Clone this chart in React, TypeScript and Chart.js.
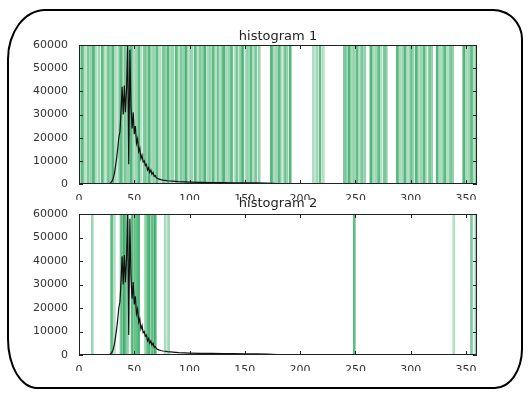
import React, { useEffect, useRef } from 'react';
import { Chart, registerables } from 'chart.js';

Chart.register(...registerables);

// ---- data ----
const xTicks = [0, 50, 100, 150, 200, 250, 300, 350];
const yTicks = [0, 10000, 20000, 30000, 40000, 50000, 60000];
const xMax = 360;
const yMax = 60000;

// histogram curve (bin -> count), same in both panels
const histBins = [
  0, 10, 20, 27,
  28, 29, 30, 31, 32, 33, 34, 35, 36, 37, 38, 39, 40, 41, 42, 43, 44, 45, 46, 47, 48, 49,
  50, 51, 52, 53, 54, 55, 56, 57, 58, 59, 60, 61, 62, 63, 64, 65, 66, 67, 68, 69, 70,
  72, 74, 76, 78, 80,
  85, 90, 95, 100,
  110, 120, 130, 140, 150, 160, 170,
  175, 180, 190, 200, 210, 220,
  240, 260, 280, 290, 300, 320, 340, 360,
];
const histCounts = [
  0, 0, 0, 0,
  300, 700, 1300, 2500, 4500, 7500, 11000, 15000, 20000, 22500, 31000, 42000, 30000, 42500, 31000, 41000, 60000, 8500, 58000, 33500, 24000, 31000,
  21500, 25000, 17500, 19500, 14000, 15500, 11000, 12500, 9500, 10000, 8000, 8500, 6000, 7000, 5000, 6000, 4200, 5000, 3300, 3600, 2700,
  2200, 1900, 1700, 1600, 1400,
  1200, 1000, 900, 800,
  700, 650, 600, 550, 500, 450, 350,
  300, 150, 100, 150, 100, 50,
  30, 20, 40, 80, 50, 20, 10, 0,
];

// vertical marker positions, panel 1
const lines1 = [
  0.5, 3, 5, 8, 10.5, 13, 15, 18, 21, 23, 26, 28, 30.5, 33, 36, 38, 40, 42, 44.5, 47, 49,
  51.5, 54, 56, 59, 61, 63.5, 66, 68, 70.5, 73, 76, 78, 80.5, 83, 85, 88, 90, 92.5, 95, 97,
  100, 102, 105, 107, 109.5, 112, 114, 117, 119, 121.5, 124, 126, 129, 131, 133.5, 136, 138,
  141, 143, 146, 148, 151, 153, 155.5, 158, 160, 163, 174, 176, 178.5, 181, 183, 186, 188, 191,
  212, 215, 218, 221, 240, 242, 244.5, 247, 249, 251.5, 254, 256, 258.5, 264, 266, 268.5, 271,
  273, 276, 278, 288, 290.5, 293, 295, 297.5, 300, 302, 305, 307, 309.5, 312, 314, 317, 319,
  324, 326.5, 329, 331, 333.5, 336, 338, 348, 350, 352.5, 355, 357, 359.5,
];

// vertical marker positions, panel 2
const lines2 = [
  12, 29.5, 32, 38, 39.5, 41, 42.5, 44, 48, 49.5, 51, 52.5, 54, 60, 61.5, 63, 64.5, 66, 67.5,
  69, 78, 81, 249, 339, 355, 359,
];

// ---- styling ----
const FONT = 'DejaVu Sans';
const greenShades = [
  'rgba(40,165,90,0.45)',
  'rgba(40,165,90,0.75)',
  'rgba(40,165,90,0.35)',
  'rgba(40,165,90,0.6)',
  'rgba(40,165,90,0.5)',
  'rgba(40,165,90,0.8)',
  'rgba(40,165,90,0.4)',
];

const axesFramePlugin = {
  id: 'axesFrame',
  afterDraw(chart: any) {
    const { ctx, chartArea: a, scales } = chart;
    ctx.save();
    ctx.strokeStyle = '#222';
    ctx.lineWidth = 1;
    ctx.strokeRect(a.left + 0.5, a.top + 0.5, a.right - a.left - 1, a.bottom - a.top - 1);
    ctx.beginPath();
    for (const t of scales.x.ticks) {
      const px = Math.round(scales.x.getPixelForValue(t.value)) + 0.5;
      ctx.moveTo(px, a.bottom);
      ctx.lineTo(px, a.bottom - 4);
      ctx.moveTo(px, a.top);
      ctx.lineTo(px, a.top + 4);
    }
    for (const t of scales.y.ticks) {
      const py = Math.round(scales.y.getPixelForValue(t.value)) + 0.5;
      ctx.moveTo(a.left, py);
      ctx.lineTo(a.left + 4, py);
      ctx.moveTo(a.right, py);
      ctx.lineTo(a.right - 4, py);
    }
    ctx.stroke();
    ctx.restore();
  },
};

function makeConfig(title: string, lines: number[], titlePad: { top: number; bottom: number }, padBottom: number): any {
  const histData = histBins.map((b, i) => ({ x: b, y: histCounts[i] }));
  const lineData = lines.map((v) => ({ x: v, y: yMax }));
  return {
    type: 'bar',
    data: {
      datasets: [
        {
          type: 'line',
          data: histData,
          borderColor: '#111',
          borderWidth: 1.2,
          pointRadius: 0,
          tension: 0,
          fill: false,
          order: 0,
        },
        {
          type: 'bar',
          data: lineData,
          backgroundColor: lines.map((_, i) => greenShades[i % greenShades.length]),
          borderWidth: 0,
          barThickness: 2,
          grouped: false,
          order: 1,
        },
      ],
    },
    options: {
      responsive: false,
      devicePixelRatio: 1,
      animation: false,
      events: [],
      layout: { padding: { left: 0, right: 51, top: 0, bottom: padBottom } },
      plugins: {
        legend: { display: false },
        tooltip: { enabled: false },
        title: {
          display: true,
          text: title,
          fullSize: false,
          color: '#222',
          font: { family: FONT, size: 13, weight: 'normal', lineHeight: 1.2 },
          padding: titlePad,
        },
      },
      scales: {
        x: {
          type: 'linear',
          min: 0,
          max: xMax,
          offset: false,
          grid: { display: false },
          border: { display: false },
          afterBuildTicks: (s: any) => {
            s.ticks = xTicks.map((v) => ({ value: v }));
          },
          afterFit: (s: any) => {
            s.height = 16;
          },
          ticks: {
            color: '#333',
            padding: 1,
            maxRotation: 0,
            autoSkip: false,
            font: { family: FONT, size: 11 },
            callback: (v: any) => String(v),
          },
        },
        y: {
          type: 'linear',
          min: 0,
          max: yMax,
          grid: { display: false },
          border: { display: false },
          afterBuildTicks: (s: any) => {
            s.ticks = yTicks.map((v) => ({ value: v }));
          },
          afterFit: (s: any) => {
            s.width = 79;
          },
          ticks: {
            color: '#333',
            padding: 3,
            font: { family: FONT, size: 11 },
            callback: (v: any) => String(v),
          },
        },
      },
    },
    plugins: [axesFramePlugin],
  };
}

export default function App() {
  const topRef = useRef<HTMLCanvasElement | null>(null);
  const botRef = useRef<HTMLCanvasElement | null>(null);

  useEffect(() => {
    const c1 = new Chart(topRef.current as HTMLCanvasElement, makeConfig('histogram 1', lines1, { top: 29, bottom: 0.4 }, 0));
    const c2 = new Chart(botRef.current as HTMLCanvasElement, makeConfig('histogram 2', lines2, { top: 6.2, bottom: 2.2 }, 23));
    return () => {
      c1.destroy();
      c2.destroy();
    };
  }, []);

  return (
    <div style={{ position: 'fixed', left: 0, top: 0, width: 528, height: 394, background: '#fff', overflow: 'hidden' }}>
      <div
        style={{
          position: 'absolute',
          left: 7,
          top: 9,
          width: 516,
          height: 380,
          boxSizing: 'border-box',
          border: '2px solid #000',
          borderRadius: '38px 30px 28px 30px / 50px 30px 40px 50px',
        }}
      />
      <canvas ref={topRef} width={528} height={200} style={{ position: 'absolute', left: 0, top: 0 }} />
      <canvas ref={botRef} width={528} height={204} style={{ position: 'absolute', left: 0, top: 190 }} />
    </div>
  );
}
